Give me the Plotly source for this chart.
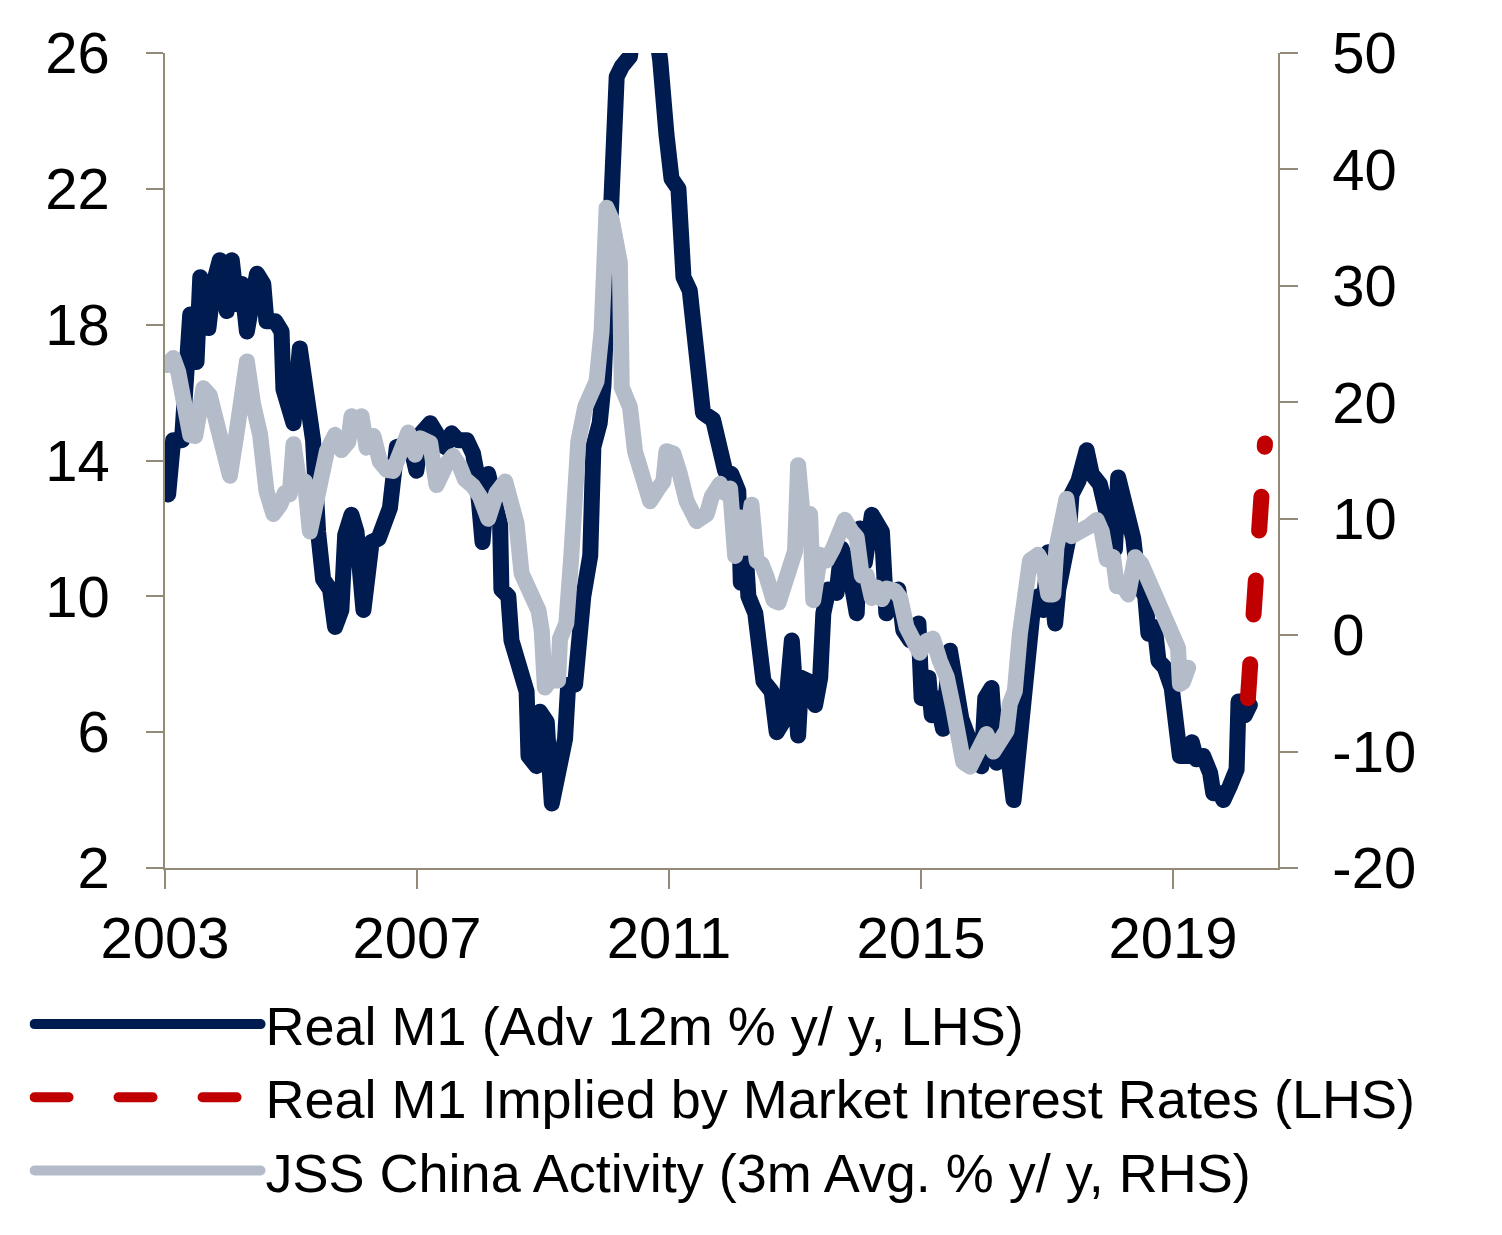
import plotly.graph_objects as go

# ---- data ----
m1_x = [2003.05, 2003.13, 2003.27, 2003.34, 2003.40, 2003.45, 2003.50, 2003.56, 2003.63, 2003.69,
        2003.77, 2003.87, 2003.98, 2004.06, 2004.14, 2004.22, 2004.30, 2004.46, 2004.56, 2004.61,
        2004.75, 2004.85, 2004.88, 2004.96, 2005.04, 2005.14, 2005.25, 2005.35, 2005.43, 2005.51,
        2005.62, 2005.70, 2005.80, 2005.86, 2005.96, 2006.04, 2006.15, 2006.28, 2006.39, 2006.47,
        2006.57, 2006.68, 2006.78, 2006.89, 2006.99, 2007.07, 2007.21, 2007.31, 2007.44, 2007.55,
        2007.65, 2007.79, 2007.89, 2007.94, 2008.00, 2008.04, 2008.13, 2008.24, 2008.32, 2008.34,
        2008.45, 2008.50, 2008.61, 2008.74, 2008.77, 2008.90, 2008.95, 2009.06, 2009.14, 2009.24,
        2009.35, 2009.40, 2009.51, 2009.64, 2009.75, 2009.80, 2009.90, 2009.96, 2010.04, 2010.12,
        2010.17, 2010.25, 2010.38, 2010.49, 2010.62, 2010.73, 2010.86, 2010.96, 2011.04, 2011.15,
        2011.23, 2011.33, 2011.47, 2011.54, 2011.70, 2011.81, 2011.89, 2011.99, 2012.10, 2012.14,
        2012.20, 2012.26, 2012.37, 2012.50, 2012.63, 2012.71, 2012.84, 2012.95, 2013.05, 2013.10,
        2013.21, 2013.32, 2013.40, 2013.45, 2013.53, 2013.66, 2013.69, 2013.74, 2013.85, 2013.98,
        2014.03, 2014.11, 2014.22, 2014.29, 2014.38, 2014.45, 2014.53, 2014.64, 2014.72, 2014.83,
        2014.96, 2015.01, 2015.12, 2015.17, 2015.25, 2015.35, 2015.46, 2015.57, 2015.64, 2015.78,
        2015.86, 2015.96, 2016.02, 2016.12, 2016.20, 2016.31, 2016.36, 2016.47, 2016.57, 2016.68,
        2016.78, 2016.86, 2016.94, 2017.02, 2017.07, 2017.13, 2017.18, 2017.26, 2017.34, 2017.39,
        2017.50, 2017.63, 2017.71, 2017.84, 2017.95, 2018.08, 2018.13, 2018.26, 2018.37, 2018.45,
        2018.56, 2018.61, 2018.71, 2018.77, 2018.87, 2018.98, 2019.06, 2019.11, 2019.22, 2019.30,
        2019.37, 2019.48, 2019.59, 2019.64, 2019.75, 2019.80, 2019.90, 2020.01, 2020.04, 2020.12,
        2020.14, 2020.22]
m1_y = [13.0, 14.6, 14.6, 18.2, 18.3, 16.9, 16.9, 19.4, 17.9, 17.9,
        19.2, 19.9, 18.4, 19.9, 18.6, 19.2, 17.8, 19.5, 19.2, 18.1,
        18.1, 17.8, 16.1, 15.7, 15.1, 17.3, 15.8, 14.6, 11.9, 10.5,
        10.2, 9.1, 9.6, 11.8, 12.4, 11.9, 9.6, 11.6, 11.7, 12.3,
        12.6, 14.4, 14.5, 14.5, 13.7, 14.8, 15.1, 14.8, 14.4, 14.8,
        14.6, 14.6, 14.2, 13.7, 12.8, 11.6, 13.6, 12.8, 12.1, 10.2,
        10.0, 8.7, 7.9, 7.2, 5.3, 5.0, 6.6, 6.3, 3.9, 4.6,
        5.8, 7.4, 7.4, 10.0, 11.2, 14.4, 15.1, 16.2, 20.1, 23.4,
        25.3, 25.6, 25.9, 27.5, 28.5, 27.5, 25.8, 23.6, 22.3, 22.0,
        19.4, 19.0, 17.0, 15.4, 15.2, 14.1, 13.7, 13.6, 13.1, 10.4,
        11.8, 10.0, 9.5, 7.5, 7.2, 6.0, 6.4, 8.7, 5.9, 7.6,
        7.5, 6.8, 7.6, 9.5, 10.2, 10.1, 10.7, 11.4, 10.9, 9.5,
        12.0, 11.0, 12.4, 12.2, 11.9, 9.5, 9.9, 10.2, 9.0, 8.7,
        9.2, 7.0, 7.6, 6.5, 7.0, 6.1, 8.4, 7.2, 6.4, 5.7,
        5.5, 5.0, 7.0, 7.3, 5.1, 5.6, 5.7, 4.0, 6.1, 7.7,
        9.7, 10.0, 9.6, 11.3, 9.8, 9.2, 10.2, 11.0, 11.7, 13.0,
        13.4, 14.3, 13.6, 13.3, 12.6, 11.4, 13.5, 12.4, 11.7, 10.4,
        10.0, 8.9, 9.1, 8.1, 7.9, 7.3, 6.4, 5.3, 5.3, 5.7,
        5.2, 5.3, 4.8, 4.2, 4.2, 4.0, 4.4, 4.9, 6.9, 6.9,
        6.5, 6.8]

implied_x = [2020.19, 2020.33, 2020.46]
implied_y = [7.0, 10.6, 14.5]

jss_x = [2003.03, 2003.13, 2003.21, 2003.32, 2003.40, 2003.48, 2003.61, 2003.71, 2003.85, 2003.92,
         2004.03, 2004.14, 2004.22, 2004.30, 2004.40, 2004.51, 2004.61, 2004.72, 2004.83, 2004.90,
         2004.98, 2005.04, 2005.12, 2005.22, 2005.30, 2005.43, 2005.57, 2005.70, 2005.80, 2005.91,
         2005.96, 2006.04, 2006.12, 2006.20, 2006.31, 2006.41, 2006.52, 2006.62, 2006.73, 2006.86,
         2006.97, 2007.05, 2007.21, 2007.31, 2007.47, 2007.57, 2007.68, 2007.76, 2007.89, 2008.00,
         2008.13, 2008.26, 2008.40, 2008.48, 2008.58, 2008.66, 2008.79, 2008.93, 2008.98, 2009.03,
         2009.11, 2009.24, 2009.27, 2009.37, 2009.45, 2009.56, 2009.67, 2009.77, 2009.85, 2009.93,
         2010.01, 2010.09, 2010.22, 2010.25, 2010.38, 2010.46, 2010.57, 2010.70, 2010.83, 2010.91,
         2010.96, 2011.07, 2011.17, 2011.28, 2011.44, 2011.60, 2011.68, 2011.81, 2011.89, 2011.97,
         2012.05, 2012.13, 2012.21, 2012.31, 2012.39, 2012.47, 2012.55, 2012.66, 2012.74, 2012.84,
         2012.92, 2013.00, 2013.05, 2013.13, 2013.24, 2013.29, 2013.40, 2013.50, 2013.61, 2013.71,
         2013.79, 2013.90, 2013.98, 2014.06, 2014.14, 2014.22, 2014.30, 2014.38, 2014.45, 2014.59,
         2014.67, 2014.77, 2014.88, 2014.98, 2015.09, 2015.19, 2015.30, 2015.41, 2015.51, 2015.59,
         2015.67, 2015.78, 2015.88, 2016.04, 2016.15, 2016.25, 2016.36, 2016.41, 2016.49, 2016.57,
         2016.65, 2016.73, 2016.86, 2016.94, 2017.02, 2017.10, 2017.15, 2017.23, 2017.31, 2017.39,
         2017.47, 2017.58, 2017.68, 2017.79, 2017.87, 2017.95, 2018.05, 2018.11, 2018.21, 2018.29,
         2018.40, 2018.50, 2018.61, 2018.71, 2018.79, 2018.90, 2019.00, 2019.08, 2019.11, 2019.16,
         2019.24]
jss_y = [23.2, 23.8, 22.6, 19.8, 17.2, 17.1, 21.2, 20.6, 17.8, 16.9,
         13.7, 17.5, 19.8, 23.5, 19.8, 17.2, 12.4, 10.4, 11.2, 12.2,
         12.1, 16.4, 13.5, 13.2, 8.9, 12.9, 15.8, 17.2, 15.9, 16.6,
         18.8, 17.8, 18.8, 16.1, 17.1, 14.9, 14.2, 14.1, 15.8, 17.4,
         15.5, 16.9, 16.5, 12.9, 14.7, 15.4, 14.5, 13.4, 12.8, 11.9,
         10.0, 12.2, 13.2, 11.5, 9.6, 5.3, 4.0, 2.1, 0.4, -4.5,
         -3.9, -3.9, -0.3, 1.0, 6.8, 16.6, 19.6, 20.5, 21.8, 26.1,
         36.7, 35.7, 32.0, 21.3, 19.6, 15.8, 13.2, 11.5, 12.6, 13.2,
         15.8, 15.6, 13.9, 11.5, 9.8, 10.4, 11.9, 13.0, 12.2, 12.6,
         6.8, 10.1, 7.5, 11.2, 6.4, 6.1, 5.0, 3.0, 2.8, 4.7,
         6.7, 7.2, 14.6, 9.8, 10.4, 3.0, 6.9, 6.4, 7.5, 9.5,
         9.9, 8.9, 8.4, 5.1, 5.1, 3.2, 4.1, 3.1, 4.0, 3.8,
         3.2, 0.7, -0.9, -1.5, -0.5, -0.3, -2.2, -3.6, -6.2, -9.9,
         -10.9, -11.3, -10.2, -8.5, -10.0, -9.3, -8.2, -5.9, -4.8, 0.1,
         5.0, 6.4, 6.9, 6.1, 3.5, 3.5, 7.5, 9.5, 11.7, 8.5,
         8.7, 9.1, 9.4, 9.9, 8.9, 6.5, 6.7, 4.2, 4.2, 3.5,
         6.7, 6.1, 4.7, 3.5, 3.1, 1.2, 0.1, -1.1, -4.2, -4.0,
         -2.8]

year_ticks = [2003, 2007, 2011, 2015, 2019]
left_ticks = [2, 6, 10, 14, 18, 22, 26]
right_ticks = [-20, -10, 0, 10, 20, 30, 40, 50]

names = ["Real M1 (Adv 12m % y/ y, LHS)",
         "Real M1 Implied by Market Interest Rates (LHS)",
         "JSS China Activity (3m Avg. % y/ y, RHS)"]

NAVY = "#001b50"
RED = "#c00000"
GRAY = "#b4bbc9"
AXIS = "#948a78"
FONT = "Liberation Sans, Arial, sans-serif"
LW = 16

fig = go.Figure()
fig.add_trace(go.Scatter(x=m1_x, y=m1_y, mode="lines", name=names[0],
                         line=dict(color=NAVY, width=LW), yaxis="y"))
fig.add_trace(go.Scatter(x=implied_x, y=implied_y, mode="lines", name=names[1],
                         line=dict(color=RED, width=LW, dash="34px,50px"), yaxis="y"))
fig.add_trace(go.Scatter(x=jss_x, y=jss_y, mode="lines", name=names[2],
                         line=dict(color=GRAY, width=LW), yaxis="y2"))

tickfont = dict(size=58, family=FONT, color="black")

fig.update_layout(
    width=1494, height=1227,
    margin=dict(l=157, r=224, t=42, b=367),
    paper_bgcolor="white", plot_bgcolor="white",
    font=dict(family=FONT, size=54, color="black"),
    showlegend=True,
    legend=dict(x=-0.1217, y=-0.1405, xanchor="left", yanchor="top",
                traceorder="normal", itemwidth=226,
                font=dict(size=54, family=FONT, color="black"), bgcolor="rgba(0,0,0,0)"),
    xaxis=dict(range=[2003, 2020.667], tickvals=year_ticks,
               ticktext=[str(t) for t in year_ticks],
               showgrid=False, zeroline=False, showline=True, linecolor=AXIS, linewidth=1.5,
               ticks="outside", ticklen=19, tickcolor=AXIS, tickwidth=1.5,
               tickfont=tickfont, ticklabelstandoff=0),
    yaxis=dict(range=[2, 26], tickvals=left_ticks, showgrid=False, zeroline=False,
               showline=True, linecolor=AXIS, linewidth=1.5,
               ticks="outside", ticklen=17, tickcolor=AXIS, tickwidth=1.5,
               tickfont=tickfont, ticklabelstandoff=25),
    yaxis2=dict(range=[-20, 50], tickvals=right_ticks,
                ticktext=[str(t) for t in right_ticks], overlaying="y", side="right",
                showgrid=False, zeroline=False, showline=True, linecolor=AXIS, linewidth=1.5,
                ticks="outside", ticklen=18, tickcolor=AXIS, tickwidth=1.5,
                tickfont=tickfont, ticklabelstandoff=23),
)

# round line joins/caps, like the reference's rendering
round_joins = """
var gd = document.getElementById('{plot_id}');
function roundLines() {
  gd.querySelectorAll('path.js-line, .legendlines path').forEach(function(p) {
    p.style.strokeLinejoin = 'round';
    p.style.strokeLinecap = 'round';
  });
}
roundLines();
gd.on('plotly_afterplot', roundLines);
"""

fig.write_html("out.html", post_script=round_joins)
